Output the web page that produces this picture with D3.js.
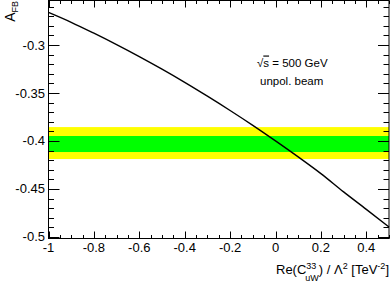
<!DOCTYPE html>
<html><head><meta charset="utf-8">
<script src="https://cdn.jsdelivr.net/npm/d3@7"></script>
<style>body{margin:0;background:#fff}svg{display:block;font-family:"Liberation Sans",Arial,sans-serif}</style>
</head><body>
<svg id="c" width="391" height="284"></svg>
<script>
// Data
const xValues = [-1, -0.9, -0.8, -0.7, -0.6, -0.5, -0.4, -0.3, -0.2, -0.1, 0, 0.1, 0.2, 0.3, 0.4, 0.5];
const afbValues = [-0.266, -0.2763, -0.2877, -0.2996, -0.3121, -0.3252, -0.3389, -0.3533, -0.3682, -0.3837, -0.3999, -0.4166, -0.434, -0.453, -0.4712, -0.4896];
const band1sigma = [-0.3948, -0.4115];
const band2sigma = [-0.3855, -0.4188];
const xTicks = [-1, -0.8, -0.6, -0.4, -0.2, 0, 0.2, 0.4];
const yTicks = [-0.3, -0.35, -0.4, -0.45, -0.5];
const labels = ["√s = 500 GeV", "unpol. beam"];

const svg = d3.select("#c");
const L = 48.5, R = 389, T = 0.5, B = 238.5;
const x = d3.scaleLinear().domain([-1, 0.5]).range([L, R]);
const y = d3.scaleLinear().domain([-0.5016, -0.2536]).range([B, T]);

// bands
svg.append("rect").attr("x", L).attr("width", R - L)
  .attr("y", y(band2sigma[0])).attr("height", y(band2sigma[1]) - y(band2sigma[0])).attr("fill", "#ffff00");
svg.append("rect").attr("x", L).attr("width", R - L)
  .attr("y", y(band1sigma[0])).attr("height", y(band1sigma[1]) - y(band1sigma[0])).attr("fill", "#00ff00");

// curve
svg.append("path").datum(xValues.map((v, i) => [v, afbValues[i]]))
  .attr("d", d3.line().x(d => x(d[0])).y(d => y(d[1])).curve(d3.curveMonotoneX))
  .attr("fill", "none").attr("stroke", "#000").attr("stroke-width", 1.4);

// minor ticks
const xMinor = d3.range(-1, 0.5001, 0.05);
const yMinor = d3.range(-0.5, -0.25, 0.01);
const g = svg.append("g").attr("stroke", "#000").attr("stroke-width", 1);
xMinor.forEach(v => {
  const px = Math.round(x(v)) + 0.5;
  g.append("line").attr("x1", px).attr("x2", px).attr("y1", B).attr("y2", B - 3.5);
  g.append("line").attr("x1", px).attr("x2", px).attr("y1", T).attr("y2", T + 3.5);
});
xTicks.forEach(v => {
  const px = Math.round(x(v)) + 0.5;
  g.append("line").attr("x1", px).attr("x2", px).attr("y1", B).attr("y2", B - 7);
  g.append("line").attr("x1", px).attr("x2", px).attr("y1", T).attr("y2", T + 7);
});
yMinor.forEach(v => {
  const py = Math.round(y(v)) + 0.5;
  g.append("line").attr("x1", L).attr("x2", L + 5.5).attr("y1", py).attr("y2", py);
  g.append("line").attr("x1", R).attr("x2", R - 5.5).attr("y1", py).attr("y2", py);
});
yTicks.forEach(v => {
  const py = Math.round(y(v)) + 0.5;
  g.append("line").attr("x1", L).attr("x2", L + 11).attr("y1", py).attr("y2", py);
  g.append("line").attr("x1", R).attr("x2", R - 11).attr("y1", py).attr("y2", py);
});

// frame
svg.append("rect").attr("x", L).attr("y", T).attr("width", R - L).attr("height", B - T)
  .attr("fill", "none").attr("stroke", "#000").attr("stroke-width", 1);

// tick labels
const fmt = v => (v === 0 ? "0" : String(v));
svg.append("g").selectAll("text").data(xTicks).join("text")
  .attr("x", d => x(d)).attr("y", 252).attr("text-anchor", "middle")
  .attr("font-size", 13).text(fmt);
svg.append("g").selectAll("text").data(yTicks).join("text")
  .attr("x", 45).attr("y", d => y(d) + 4.5).attr("text-anchor", "end")
  .attr("font-size", 13).text(fmt);

// axis titles
const xt = svg.append("text").attr("x", 389).attr("y", 274).attr("text-anchor", "end").attr("font-size", 13);
xt.append("tspan").text("Re(C");
xt.append("tspan").attr("font-size", 9).attr("dy", -5).text("33");
xt.append("tspan").attr("font-size", 9).attr("dx", -11).attr("dy", 12).text("uW");
xt.append("tspan").attr("dy", -7).text(") / Λ");
xt.append("tspan").attr("font-size", 9).attr("dy", -5).text("2");
xt.append("tspan").attr("dy", 5).text(" [TeV");
xt.append("tspan").attr("font-size", 9).attr("dy", -5).text("-2");
xt.append("tspan").attr("dy", 5).text("]");

const yt = svg.append("text").attr("transform", "translate(15,1) rotate(-90)")
  .attr("text-anchor", "end").attr("font-size", 14);
yt.append("tspan").text("A");
yt.append("tspan").attr("font-size", 9).attr("dy", 3).text("FB");

// annotations
const a1 = svg.append("text").attr("x", 257).attr("y", 66.5).attr("font-size", 11.5);
a1.append("tspan").text("√");
a1.append("tspan").attr("text-decoration", "overline").text("s");
a1.append("tspan").text(" = 500 GeV");
svg.append("text").attr("x", 260).attr("y", 85).attr("font-size", 11.5).text(labels[1]);
</script>
</body></html>
